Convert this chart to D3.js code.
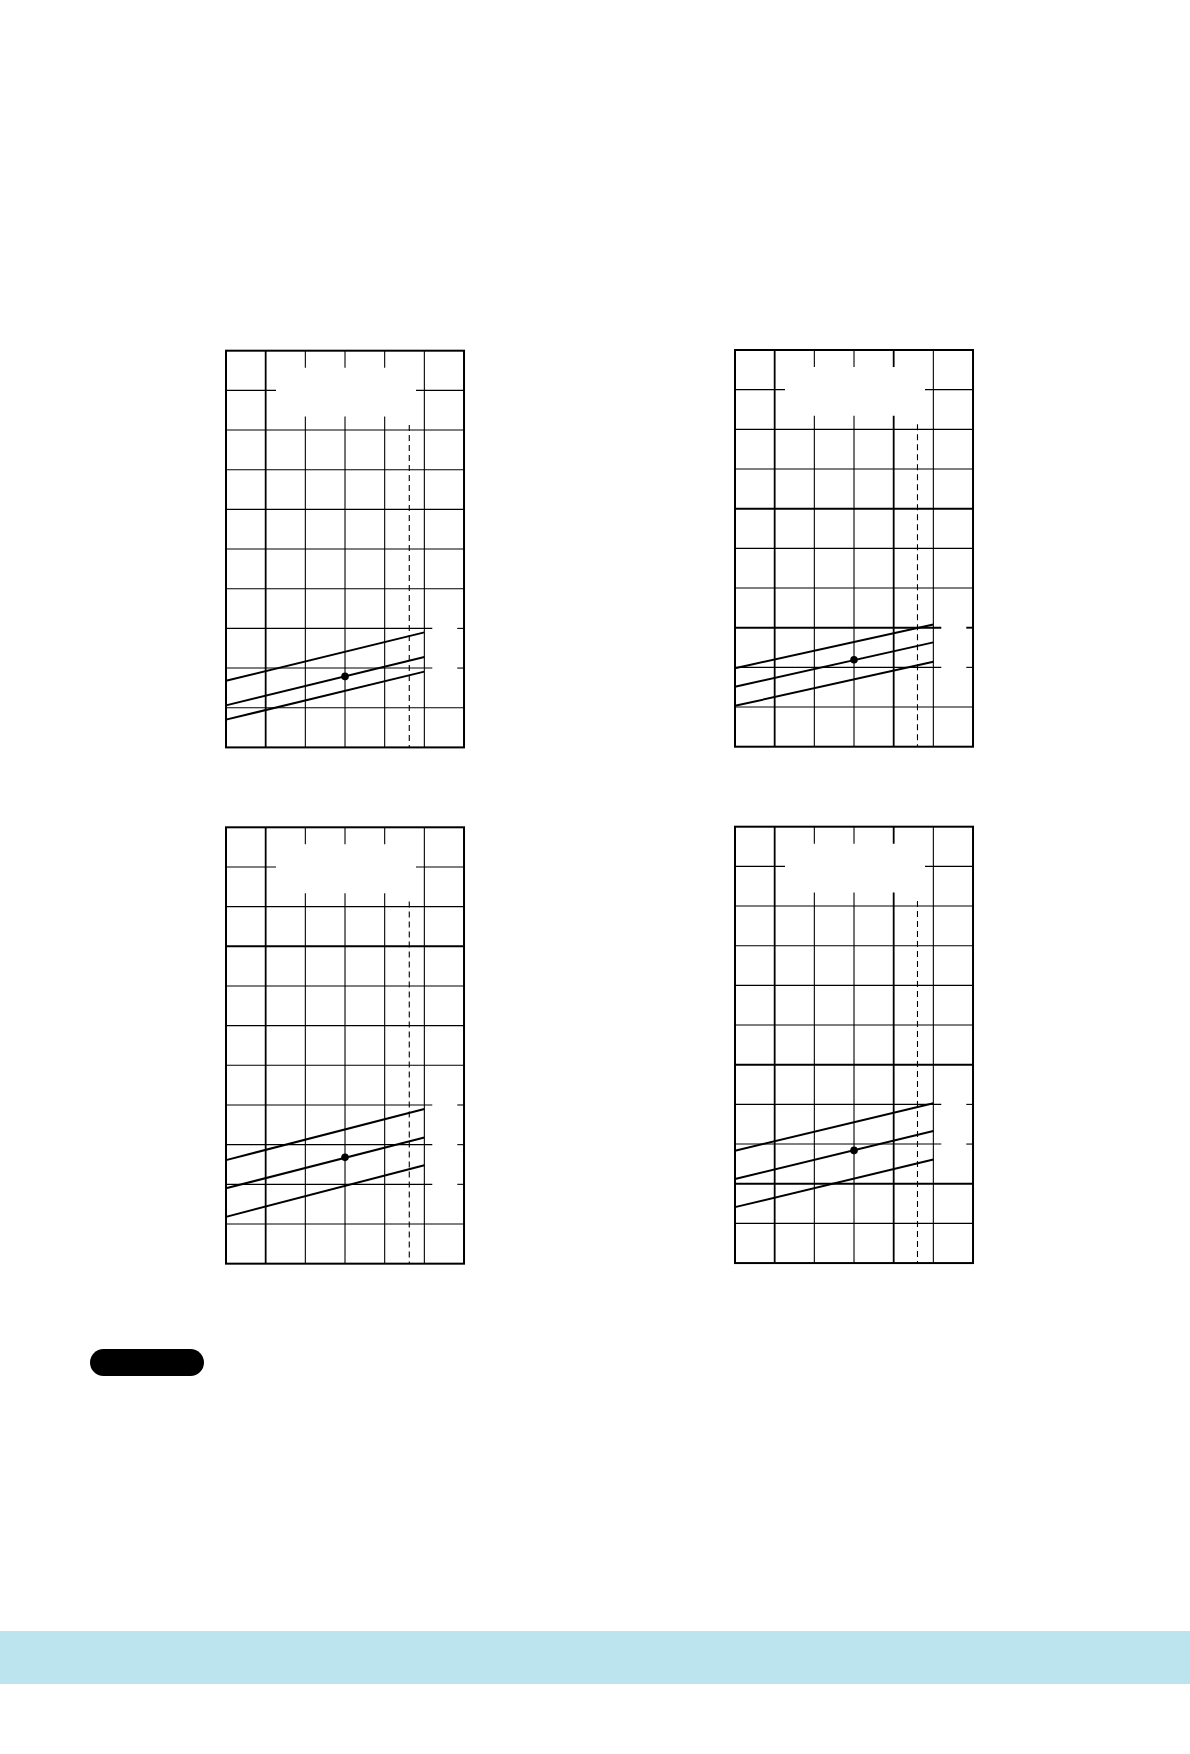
<!DOCTYPE html>
<html>
<head>
<meta charset="utf-8">
<script src="https://cdn.jsdelivr.net/npm/d3@7"></script>
<style>
  body { margin: 0; background: #ffffff; }
  svg { display: block; }
</style>
</head>
<body>
<div id="wrapper"></div>
<script>
// chart values, one entry per panel (top-left, top-right, bottom-left, bottom-right)
const panelRows = [10, 10, 11, 11];
const panelCols = [6, 6, 6, 6];
const thickRows = [[], [4, 7], [3], [6, 9]];          // counted from the top
const thickCols = [[1], [1, 4], [1], [1, 4]];
const openRows = [[2, 3], [2, 3], [2, 3, 4], [3, 4]]; // counted from the bottom, cut right of col 5
const lineX = [0, 5];
const upperLine = [[1.68, 2.90], [1.98, 3.08], [2.61, 3.90], [2.83, 4.03]];
const middleLine = [[1.06, 2.28], [1.51, 2.63], [1.90, 3.18], [2.12, 3.33]];
const lowerLine = [[0.70, 1.91], [1.03, 2.14], [1.18, 2.48], [1.41, 2.61]];
const dotPoint = [[3, 1.79], [3, 2.19], [3, 2.68], [3, 2.84]];
const limitX = [4.62, 4.60, 4.62, 4.60];

let dimensions = {
  width: 1190,
  height: 1754,
  cell: 39.67,
  origins: [[226, 350.7], [735, 350], [226, 827.3], [735, 826.7]]
}

let wrapper = d3.select("#wrapper").append("svg")
    .attr("width", dimensions.width)
    .attr("height", dimensions.height);

wrapper.append("rect")
    .attr("width", dimensions.width)
    .attr("height", dimensions.height)
    .attr("fill", "#ffffff");

function panel(i) {
  const [left, top] = dimensions.origins[i];
  const rows = panelRows[i], cols = panelCols[i];
  const xScale = d3.scaleLinear().domain([0, cols]).range([left, left + cols * dimensions.cell]);
  const yScale = d3.scaleLinear().domain([0, rows]).range([top + rows * dimensions.cell, top]);
  const g = wrapper.append("g").attr("class", "panel");

  const hline = (y, x0, x1, w) => g.append("line")
      .attr("x1", xScale(x0)).attr("x2", xScale(x1))
      .attr("y1", yScale(y)).attr("y2", yScale(y))
      .attr("stroke", "#000").attr("stroke-width", w);
  const vline = (x, y0, y1, w) => g.append("line")
      .attr("x1", xScale(x)).attr("x2", xScale(x))
      .attr("y1", yScale(y0)).attr("y2", yScale(y1))
      .attr("stroke", "#000").attr("stroke-width", w);

  // horizontal grid
  d3.range(1, rows).forEach(r => {
    const fromTop = rows - r;
    const w = thickRows[i].includes(fromTop) ? 1.9 : 1.1;
    if (fromTop === 1) {
      // header row: only short pieces at both ends
      hline(r, 0, 1.26, w);
      hline(r, 4.79, cols, w);
    } else if (openRows[i].includes(r)) {
      hline(r, 0, 5.2, w);
      hline(r, cols - 0.17, cols, w);
    } else {
      hline(r, 0, cols, w);
    }
  });

  // vertical grid
  d3.range(1, cols).forEach(c => {
    const w = thickCols[i].includes(c) ? 1.8 : 1.1;
    if (c >= 2 && c <= 4) {
      vline(c, rows, rows - 0.43, w);
      vline(c, rows - 1.66, 0, w);
    } else {
      vline(c, rows, 0, w);
    }
  });

  // frame
  g.append("rect")
      .attr("x", xScale(0)).attr("y", yScale(rows))
      .attr("width", xScale(cols) - xScale(0))
      .attr("height", yScale(0) - yScale(rows))
      .attr("fill", "none").attr("stroke", "#000").attr("stroke-width", 2);

  // dashed limit
  g.append("line")
      .attr("x1", xScale(limitX[i])).attr("x2", xScale(limitX[i]))
      .attr("y1", yScale(rows - 1.87)).attr("y2", yScale(0))
      .attr("stroke", "#000").attr("stroke-width", 1.1)
      .attr("stroke-dasharray", "6,4");

  const line = d3.line().x(d => xScale(d[0])).y(d => yScale(d[1]));
  [upperLine[i], middleLine[i], lowerLine[i]].forEach(ys => {
    g.append("path")
        .attr("d", line(lineX.map((x, k) => [x, ys[k]])))
        .attr("fill", "none").attr("stroke", "#000").attr("stroke-width", 2);
  });

  g.append("circle")
      .attr("cx", xScale(dotPoint[i][0]))
      .attr("cy", yScale(dotPoint[i][1]))
      .attr("r", 3.8)
      .attr("fill", "#000");
}

d3.range(4).forEach(panel);

// note badge
wrapper.append("rect")
    .attr("x", 90).attr("y", 1349)
    .attr("width", 114).attr("height", 27)
    .attr("rx", 13.5)
    .attr("fill", "#000");

// footer band
wrapper.append("rect")
    .attr("x", 0).attr("y", 1631)
    .attr("width", dimensions.width).attr("height", 53)
    .attr("fill", "#bce4ef");
</script>
</body>
</html>
